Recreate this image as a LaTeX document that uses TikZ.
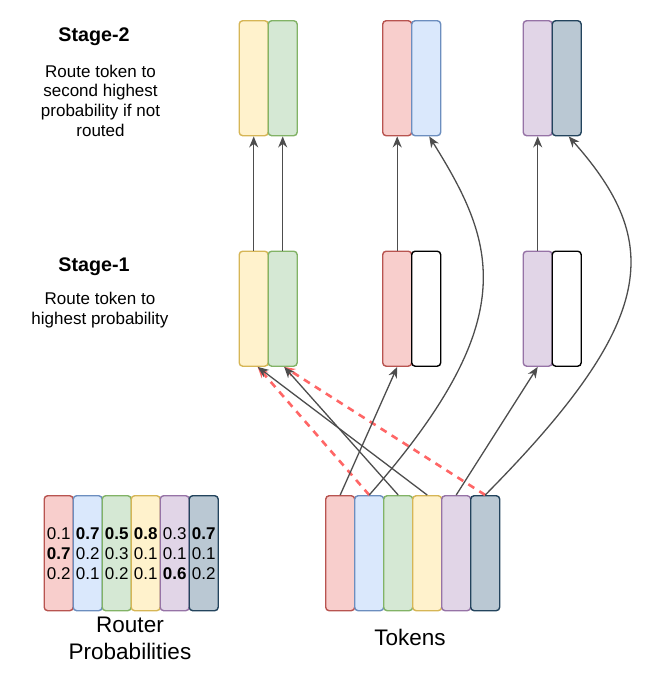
\documentclass[tikz,border=0pt]{standalone}
\usepackage{fontspec}
\setmainfont{Liberation Sans}
\usetikzlibrary{arrows.meta,calc}
\definecolor{redF}{HTML}{F8CECC}\definecolor{redD}{HTML}{B85450}
\definecolor{bluF}{HTML}{DAE8FC}\definecolor{bluD}{HTML}{6C8EBF}
\definecolor{grnF}{HTML}{D5E8D4}\definecolor{grnD}{HTML}{82B366}
\definecolor{yelF}{HTML}{FFF2CC}\definecolor{yelD}{HTML}{D6B656}
\definecolor{purF}{HTML}{E1D5E7}\definecolor{purD}{HTML}{9673A6}
\definecolor{drkF}{HTML}{BAC8D3}\definecolor{drkD}{HTML}{23445D}
\definecolor{lineG}{HTML}{4D4D4D}
\definecolor{dashR}{HTML}{FF6666}
\begin{document}
\begin{tikzpicture}[x=1pt,y=-1pt,
  bx/.style={draw, rounded corners=3.5pt, minimum width=29pt, minimum height=115pt, inner sep=0pt, anchor=north west, line width=1.4pt},
  cr/.style={bx, fill=redF, draw=redD},
  cb/.style={bx, fill=bluF, draw=bluD},
  cg/.style={bx, fill=grnF, draw=grnD},
  cy/.style={bx, fill=yelF, draw=yelD},
  cp/.style={bx, fill=purF, draw=purD},
  ck/.style={bx, fill=drkF, draw=drkD},
  cw/.style={bx, fill=white, draw=black},
  num/.style={font=\fontsize{17}{20}\selectfont, align=center},
  arr/.style={draw=lineG, line width=1.3pt, -{Stealth[length=11pt,width=9pt,inset=3.5pt]}},
  darr/.style={draw=dashR, line width=2.6pt, dash pattern=on 7pt off 6pt, -{Stealth[length=11pt,width=9pt,inset=3.5pt]}},
  title/.style={font=\fontsize{19.7}{23}\selectfont\bfseries},
  desc/.style={font=\fontsize{17}{19.7}\selectfont, align=center},
  lab/.style={font=\fontsize{22.5}{26.7}\selectfont, align=center},
]
\useasboundingbox (0,0) rectangle (650,675);

% Stage-2 boxes
\node[cy] (s2y) at (238.5,20) {};
\node[cg] (s2g) at (267.5,20) {};
\node[cr] (s2r) at (382,20) {};
\node[cb] (s2b) at (411,20) {};
\node[cp] (s2p) at (522.5,20) {};
\node[ck] (s2k) at (551.5,20) {};

% Stage-1 boxes
\node[cy] (s1y) at (238.5,250.5) {};
\node[cg] (s1g) at (267.5,250.5) {};
\node[cr] (s1r) at (382,250.5) {};
\node[cw] (s1w1) at (411,250.5) {};
\node[cp] (s1p) at (522.5,250.5) {};
\node[cw] (s1w2) at (551.5,250.5) {};

% Router probabilities
\node[cr, num] (p1) at (43.5,495) {0.1\\\textbf{0.7}\\0.2};
\node[cb, num] (p2) at (72.5,495) {\textbf{0.7}\\0.2\\0.1};
\node[cg, num] (p3) at (101.5,495) {\textbf{0.5}\\0.3\\0.2};
\node[cy, num] (p4) at (130.5,495) {\textbf{0.8}\\0.1\\0.1};
\node[cp, num] (p5) at (159.5,495) {0.3\\0.1\\\textbf{0.6}};
\node[ck, num] (p6) at (188.5,495) {\textbf{0.7}\\0.1\\0.2};

% Tokens
\node[cr] (tr) at (325,495) {};
\node[cb] (tb) at (354,495) {};
\node[cg] (tg) at (383,495) {};
\node[cy] (ty) at (412,495) {};
\node[cp] (tp) at (441,495) {};
\node[ck] (tk) at (470,495) {};

% Labels
\node[title] (t2) at (94,37) {Stage-2};
\node[desc] (d2) at (100.5,100.5) {Route token to\\second highest\\probability if not\\routed};
\node[title] (t1) at (94,267) {Stage-1};
\node[desc] (d1) at (100,310) {Route token to\\highest probability};
\node[lab] (lr) at (130,638.5) {Router\\Probabilities};
\node[lab] (lt) at (410,637.5) {Tokens};

% Red dashed (dropped) routes
\draw[darr] (tb.north) -- ($(s1y.south)+(4,0)$);
\draw[darr] (tk.north) -- ($(s1g.south)+(1.5,0)$);

% Stage-1 routes
\draw[arr] (tg.north) -- ($(s1g.south)+(1.5,0)$);
\draw[arr] (ty.north) -- ($(s1y.south)+(4,0)$);
\draw[arr] (tr.north) -- (s1r.south);
\draw[arr] (tp.north) -- (s1p.south);

% Stage-1 to Stage-2
\draw[arr] (s1y.north) -- (s2y.south);
\draw[arr] (s1g.north) -- (s2g.south);
\draw[arr] (s1r.north) -- (s2r.south);
\draw[arr] (s1p.north) -- (s2p.south);

% Second choice routes
\draw[arr] (tb.north) .. controls (524,319) and (496,243.5) .. ($(s2b.south)+(3,0)$);
\draw[arr] (tk.north) .. controls (658.5,320) and (663,242.7) .. ($(s2k.south)+(2,0)$);
\end{tikzpicture}
\end{document}
